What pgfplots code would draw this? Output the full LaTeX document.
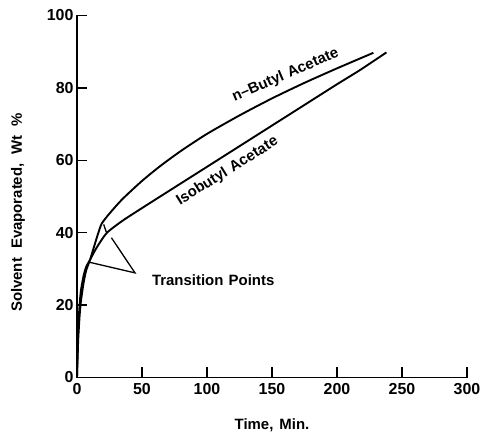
\documentclass[border=0pt]{standalone}
\usepackage{fontspec}
\setmainfont{Liberation Sans}
\usepackage{pgfplots}
\pgfplotsset{compat=1.18}

\begin{document}
\begin{tikzpicture}
\path[use as bounding box] (0bp,0bp) rectangle (480bp,440bp);
\begin{axis}[
  at={(77bp,62.5bp)}, anchor=south west,
  scale only axis, width=390bp, height=362bp,
  xmin=0, xmax=300, ymin=0, ymax=100,
  axis lines=left,
  axis line style={-, line width=1.6bp},
  xtick={0,50,...,300}, ytick={0,20,...,100},
  tick align=inside, major tick length=10bp,
  tick style={line width=1.4bp, black},
  ticklabel style={font=\fontsize{16}{16}\selectfont\bfseries},
  xticklabel style={yshift=-2bp},
  /pgf/number format/assume math mode=true,
  clip=false,
]
% n-Butyl Acetate
\addplot[black, line width=1.9bp, smooth, tension=0.4] coordinates {
  (0,0) (0.5,6) (1,11) (2,17) (3,21) (5,26) (7,29.5) (10,32.5)
  (13,36) (16,39.5) (19,42.5) (25,45.3) (35,49.3) (50,54.3)
  (64,58.4) (80,62.6) (100,67.3) (125,72.4) (150,77.1) (175,81.4)
  (200,85.4) (228,89.7)
};
% Isobutyl Acetate
\addplot[black, line width=1.9bp, smooth, tension=0.4] coordinates {
  (0,0) (0.5,8) (1,14) (2,20) (3,24) (5,28) (7,30.5) (10,32.5)
  (15,35.8) (22.8,39.9) (35,43.3) (50,46.8) (64,50) (100,58.2)
  (125,63.9) (150,69.6) (175,75.3) (200,81) (218,85) (238,89.8)
};
\node[rotate=23, font=\fontsize{15}{15}\selectfont\bfseries]
  at (axis cs:160.4,83.5) {n--Butyl\hspace{0.35em}Acetate};
\node[rotate=32, font=\fontsize{15}{15}\selectfont\bfseries]
  at (axis cs:115.7,57) {Isobutyl\hspace{0.35em}Acetate};
\node[anchor=west, font=\fontsize{15}{15}\selectfont\bfseries]
  at (axis cs:55,27) {Transition\hspace{0.35em}Points};
\draw[line width=1.3bp] (axis cs:10,31.8) -- (axis cs:44.6,28.9) -- (axis cs:26.5,38.6);
\draw[line width=1.3bp] (axis cs:22.5,40.2) -- (axis cs:20.5,42.3);
\end{axis}
\node[rotate=90, font=\fontsize{15}{15}\selectfont\bfseries]
  at (18bp,227.5bp) {Solvent\hspace{0.6em}Evaporated,\hspace{0.6em}Wt\hspace{0.6em}\%};
\node[font=\fontsize{15}{15}\selectfont\bfseries]
  at (272bp,15bp) {Time,\hspace{0.4em}Min.};
\end{tikzpicture}
\end{document}
